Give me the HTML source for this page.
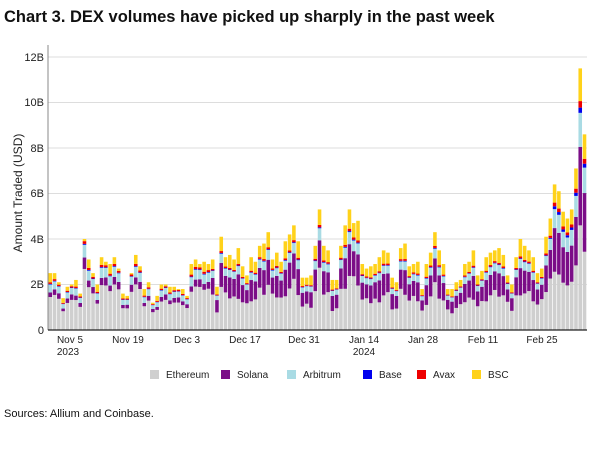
<!DOCTYPE html>
<html><head><meta charset="utf-8"><style>
body{margin:0;background:#fff;width:600px;height:447px;overflow:hidden;font-family:"Liberation Sans",sans-serif}
</style></head><body>
<svg id="s" width="600" height="447" xmlns="http://www.w3.org/2000/svg" font-family="Liberation Sans, sans-serif">
<text x="4" y="22" font-size="16.5" font-weight="bold" fill="#111">Chart 3. DEX volumes have picked up sharply in the past week</text>
<g stroke="#ddd" stroke-width="1">
<line x1="48" x2="587" y1="57" y2="57"/><line x1="48" x2="587" y1="102.5" y2="102.5"/><line x1="48" x2="587" y1="148" y2="148"/><line x1="48" x2="587" y1="193.5" y2="193.5"/><line x1="48" x2="587" y1="239" y2="239"/><line x1="48" x2="587" y1="284.5" y2="284.5"/>
</g>
<g font-size="11" fill="#222" text-anchor="end">
<text x="44" y="61">12B</text><text x="44" y="106">10B</text><text x="44" y="152">8B</text><text x="44" y="197">6B</text><text x="44" y="243">4B</text><text x="44" y="288">2B</text><text x="44" y="334">0</text>
</g>
<text transform="translate(22,193) rotate(-90)" font-size="12" text-anchor="middle" fill="#222">Amount Traded (USD)</text>
<g id="bars"></g>
<line x1="48" x2="48" y1="45" y2="330" stroke="#888"/>
<line x1="48" x2="587" y1="330" y2="330" stroke="#222" stroke-width="1.2"/>
<g font-size="10" fill="#222" text-anchor="middle">
<text x="70" y="343">Nov 5</text><text x="68" y="355">2023</text><text x="128" y="343">Nov 19</text><text x="187" y="343">Dec 3</text><text x="245" y="343">Dec 17</text><text x="304" y="343">Dec 31</text><text x="364" y="343">Jan 14</text><text x="364" y="355">2024</text><text x="423" y="343">Jan 28</text><text x="483" y="343">Feb 11</text><text x="542" y="343">Feb 25</text>
</g>
<g font-size="10" fill="#222">
<rect x="150" y="370" width="9" height="9" fill="#cfcfcf"/><text x="166" y="378">Ethereum</text>
<rect x="221" y="370" width="9" height="9" fill="#7b0d87"/><text x="237" y="378">Solana</text>
<rect x="287" y="370" width="9" height="9" fill="#a9dbe4"/><text x="303" y="378">Arbitrum</text>
<rect x="363" y="370" width="9" height="9" fill="#0000ee"/><text x="379" y="378">Base</text>
<rect x="417" y="370" width="9" height="9" fill="#ee0000"/><text x="433" y="378">Avax</text>
<rect x="472" y="370" width="9" height="9" fill="#ffd21a"/><text x="488" y="378">BSC</text>
</g>
<text x="4" y="417" font-size="11" fill="#111">Sources: Allium and Coinbase.</text>
</svg>
<script>
var T=[2.5,2.5,2.1,1.4,1.9,2.0,2.2,1.6,4.0,3.1,2.5,2.0,3.2,3.0,2.9,3.2,2.7,1.6,1.5,2.5,3.3,2.8,1.8,2.1,1.2,1.5,2.0,2.0,1.9,1.9,1.8,1.8,1.5,2.9,3.1,2.9,3.0,2.9,3.1,1.9,4.1,3.2,3.3,3.1,3.6,2.8,2.4,3.2,3.0,3.7,3.8,4.3,3.1,3.4,3.0,3.9,4.2,4.6,3.9,2.3,2.3,2.4,3.7,5.3,3.7,3.5,2.2,2.2,3.7,4.6,5.3,4.7,4.8,2.9,2.7,2.8,2.9,3.2,3.5,3.4,2.3,2.1,3.6,3.8,2.8,2.9,3.0,1.8,2.9,3.4,4.3,3.5,2.9,1.8,1.8,2.1,2.2,2.9,3.0,3.5,2.4,2.6,3.2,3.4,3.5,3.6,3.3,2.4,2.0,3.2,4.0,3.7,3.5,3.2,2.5,2.7,4.1,4.9,6.4,6.1,5.2,4.9,5.3,7.1,11.5,8.6];
var n=T.length,x0=48.5,w=(587-x0)/n,sc=22.75,g=document.getElementById('bars'),h='';
var C=['#cfcfcf','#7b0d87','#a9dbe4','#0000ee','#ee0000','#ffd21a'];
for(var i=0;i<n;i++){var t=T[i],r=((i*37)%11)/11,f;
if(i<38)f=[.58+.1*r,.08+.05*r,.14,.01,.03,0];
else if(i<118)f=[.38+.15*r,.3-.08*r,.1,.008,.02,0];
else f=[.4,.3,.13,.02,.025,0];
var s=f[0]+f[1]+f[2]+f[3]+f[4];f[5]=1-s;
var y=330;for(var k=0;k<6;k++){var hh=t*f[k]*sc;y-=hh;h+='<rect x="'+(x0+i*w).toFixed(2)+'" y="'+y.toFixed(2)+'" width="'+(w-0.7).toFixed(2)+'" height="'+hh.toFixed(2)+'" fill="'+C[k]+'"/>';}}
g.innerHTML=h;
</script>
</body></html>
